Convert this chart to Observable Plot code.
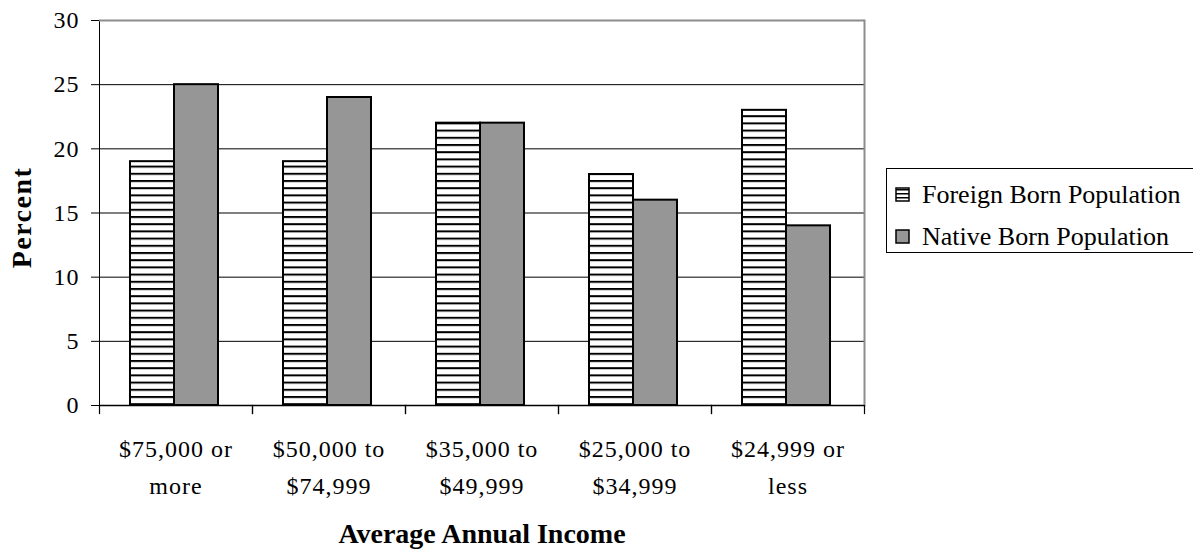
<!DOCTYPE html>
<html>
<head>
<meta charset="utf-8">
<script src="https://cdn.jsdelivr.net/npm/d3@7"></script>
<script src="https://cdn.jsdelivr.net/npm/@observablehq/plot@0.6"></script>
<style>
  html, body { margin: 0; padding: 0; background: #fff; }
  #wrap { position: relative; width: 1193px; height: 550px; overflow: hidden; }
  #legend { position: absolute; left: 0; top: 0; }
</style>
</head>
<body>
<div id="wrap"></div>
<script>
const categories = ["$75,000 or\nmore", "$50,000 to\n$74,999", "$35,000 to\n$49,999", "$25,000 to\n$34,999", "$24,999 or\nless"];
const series = ["Foreign Born Population", "Native Born Population"];
const foreignBorn = [19, 19, 22, 18, 23];
const nativeBorn = [25, 24, 22, 16, 14];
const yTicks = [0, 5, 10, 15, 20, 25, 30];
const gridValues = [5, 10, 15, 20, 25];
const fills = ["url(#hatch)", "#969696"];
const FONT = "Liberation Serif, Times New Roman, serif";

const data = categories.flatMap((c, i) => [
  {category: c, series: series[0], value: foreignBorn[i]},
  {category: c, series: series[1], value: nativeBorn[i]}
]);

const chart = Plot.plot({
  width: 1193,
  height: 550,
  marginLeft: 97,
  marginRight: 328,
  marginTop: 20,
  marginBottom: 145,
  style: {fontFamily: FONT, fontSize: "24px", background: "#fff", color: "#000", overflow: "visible"},
  fx: {domain: categories, padding: 0, axis: null},
  x: {domain: series, paddingInner: 0, paddingOuter: 0.707, align: 0.48, axis: null},
  y: {domain: [0, 30], ticks: yTicks, tickSize: 8, tickPadding: 12, label: null, line: true},
  color: {domain: series, range: fills},
  marks: [
    Plot.ruleY(gridValues, {stroke: "#000", strokeWidth: 1}),
    Plot.ruleY([30], {stroke: "#8c8c8c", strokeWidth: 2}),
    Plot.frame({anchor: "right", stroke: "#8c8c8c", strokeWidth: 2, facet: "super"}),
    Plot.barY(data, {fx: "category", x: "series", y: "value", fill: "series", stroke: "#000", strokeWidth: 2}),
    Plot.ruleY([0], {stroke: "#000", strokeWidth: 1.5}),
    Plot.frame({anchor: "left", stroke: "#000", strokeWidth: 1.2, insetTop: 385, insetBottom: -8}),
    Plot.frame({anchor: "right", stroke: "#000", strokeWidth: 1.2, insetTop: 385, insetBottom: -8}),
    Plot.axisFx({anchor: "bottom", tickSize: 0, tickPadding: 25, lineHeight: 1.54, label: null, fontSize: 24}),
    Plot.text(["Percent"], {facet: "super", frameAnchor: "left", textAnchor: "middle", lineAnchor: "middle", dx: -77, dy: 4.5, rotate: -90, fontWeight: "bold", fontSize: 28}),
    Plot.text(["Average Annual Income"], {facet: "super", frameAnchor: "bottom", textAnchor: "middle", lineAnchor: "middle", dy: 129, fontWeight: "bold", fontSize: 28})
  ]
});

const svg = d3.select(chart);
svg.insert("defs", ":first-child").html(
  '<pattern id="hatch" patternUnits="userSpaceOnUse" width="8" height="7.2">' +
  '<rect width="8" height="7.2" fill="#fff"/><rect y="0" width="8" height="2" fill="#000"/></pattern>'
);
svg.selectAll('g[aria-label$="tick label"]').style("letter-spacing", "1px");
svg.selectAll("text").filter(function () { return this.textContent === "Percent"; })
  .style("letter-spacing", "1.5px");

const wrap = document.getElementById("wrap");
wrap.appendChild(chart);

// Legend (right of the chart), built from the series array
const lg = d3.select(wrap).append("svg")
  .attr("id", "legend")
  .attr("width", 1193).attr("height", 550)
  .style("pointer-events", "none");
lg.append("defs").html(
  '<pattern id="lhatch" patternUnits="userSpaceOnUse" width="15" height="4" y="1">' +
  '<rect width="15" height="4" fill="#fff"/><rect width="15" height="1.5" fill="#000"/></pattern>'
);
lg.append("rect").attr("x", 886.5).attr("y", 168.5).attr("width", 340).attr("height", 84)
  .attr("fill", "#fff").attr("stroke", "#000").attr("stroke-width", 1);
const legendFills = ["url(#lhatch)", fills[1]];
series.forEach((s, i) => {
  const base = i === 0 ? 203 : 245;
  lg.append("rect").attr("x", 896).attr("y", base - 15).attr("width", 13).attr("height", 13)
    .attr("fill", legendFills[i]).attr("stroke", "#000").attr("stroke-width", 1.5);
  lg.append("text").attr("x", 922).attr("y", base)
    .attr("font-family", FONT).attr("font-size", 26).attr("fill", "#000").text(s);
});
</script>
</body>
</html>
